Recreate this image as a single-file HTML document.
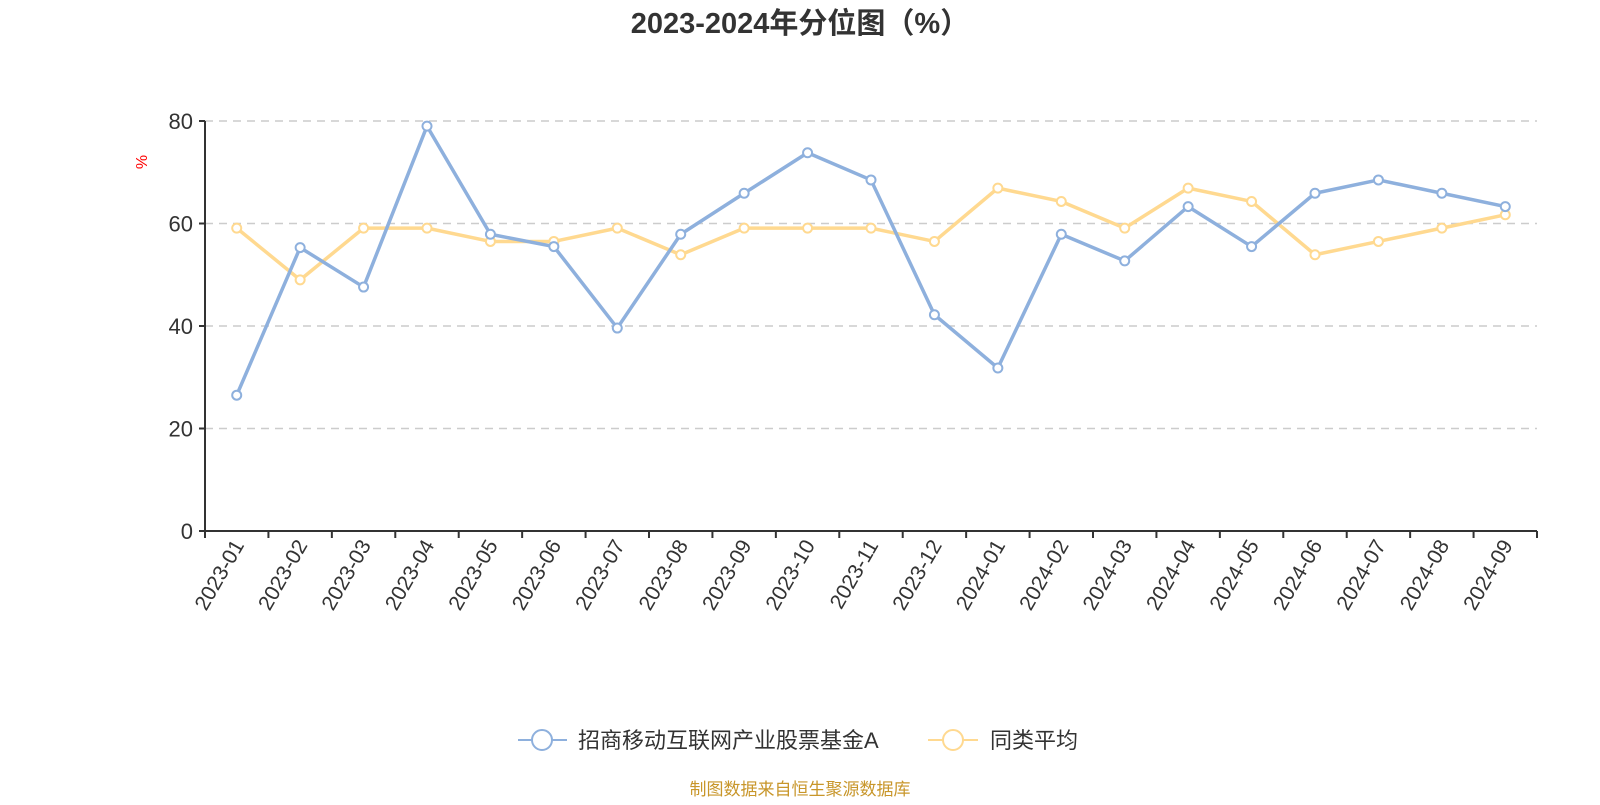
<!DOCTYPE html>
<html><head><meta charset="utf-8"><style>
body{margin:0;background:#fff;width:1600px;height:800px;overflow:hidden;font-family:"Liberation Sans","Noto Sans CJK SC",sans-serif}
</style></head><body>
<svg id="chart" width="1600" height="800" font-family="Liberation Sans, Noto Sans CJK SC, sans-serif">
<text x="800" y="33" text-anchor="middle" font-size="29" font-weight="bold" fill="#333">2023-2024年分位图（%）</text>
<text transform="translate(147,162) rotate(-90)" text-anchor="middle" font-size="16" fill="red">%</text>
<g id="grid"></g><g id="axes"></g><g id="series"></g>
<g>
<g>
<line x1="518" y1="740" x2="567" y2="740" stroke="#8eb0dd" stroke-width="2"/><circle cx="542" cy="740" r="10" fill="#fff" stroke="#8eb0dd" stroke-width="2"/>
<text x="578" y="748" font-size="22" fill="#333">招商移动互联网产业股票基金A</text></g>
<g>
<line x1="928" y1="740" x2="978" y2="740" stroke="#ffd990" stroke-width="2"/><circle cx="953" cy="740" r="10" fill="#fff" stroke="#ffd990" stroke-width="2"/>
<text x="990" y="748" font-size="22" fill="#333">同类平均</text></g>
</g>
<text x="800" y="795" text-anchor="middle" font-size="17" fill="#c8962a">制图数据来自恒生聚源数据库</text>
</svg>
<script>
const categories=["2023-01","2023-02","2023-03","2023-04","2023-05","2023-06","2023-07","2023-08","2023-09","2023-10","2023-11","2023-12","2024-01","2024-02","2024-03","2024-04","2024-05","2024-06","2024-07","2024-08","2024-09"];
const fundValues=[26.5,55.3,47.6,79,57.9,55.5,39.6,57.9,65.9,73.8,68.5,42.2,31.8,57.9,52.7,63.3,55.5,65.9,68.5,65.9,63.3];
const avgValues=[59.1,49,59.1,59.1,56.5,56.5,59.1,53.9,59.1,59.1,59.1,56.5,66.9,64.3,59.1,66.9,64.3,53.9,56.5,59.1,61.7];
const yTicks=[0,20,40,60,80];
const NS="http://www.w3.org/2000/svg";
const X0=205,X1=1537,Y0=531,Y1=121,YMAX=80;
const band=(X1-X0)/categories.length;
const xs=i=>X0+band*(i+0.5);
const ys=v=>Y0-(v/YMAX)*(Y0-Y1);
function mk(tag,attrs,parent){const e=document.createElementNS(NS,tag);for(const k in attrs)e.setAttribute(k,attrs[k]);parent.appendChild(e);return e;}
const grid=document.getElementById('grid'),axes=document.getElementById('axes'),series=document.getElementById('series');
yTicks.forEach(t=>{
  if(t>0){const g=mk('line',{x1:X0,x2:X1,y1:ys(t),y2:ys(t),stroke:'#ccc','stroke-width':1.5,'stroke-dasharray':'8,6'},grid);
  
  }
  const tk=mk('line',{x1:X0-6,x2:X0,y1:ys(t),y2:ys(t),stroke:'#333','stroke-width':2},axes);
  
  
  const lb=mk('text',{x:X0-12,y:ys(t)+8,'text-anchor':'end','font-size':22,fill:'#333'},axes);lb.textContent=t;
  
  
});
const ya=mk('line',{x1:X0,x2:X0,y1:Y1,y2:Y0,stroke:'#333','stroke-width':2},axes);


const xa=mk('line',{x1:X0,x2:X1,y1:Y0,y2:Y0,stroke:'#333','stroke-width':2},axes);


for(let i=0;i<=categories.length;i++){const x=X0+band*i;const tk=mk('line',{x1:x,x2:x,y1:Y0,y2:Y0+7,stroke:'#333','stroke-width':2},axes);
  
  }
categories.forEach((c,i)=>{const x=xs(i);const t=mk('text',{transform:`translate(${x+8},${Y0+14}) rotate(-60)`,'text-anchor':'end','font-size':21,fill:'#333'},axes);t.textContent=c;
  
  });
function draw(vals,color,name){
  const p=mk('polyline',{points:vals.map((v,i)=>xs(i)+','+ys(v)).join(' '),fill:'none',stroke:color,'stroke-width':3.5,'stroke-linejoin':'round'},series);
  
  
  vals.forEach((v,i)=>{const c=mk('circle',{cx:xs(i),cy:ys(v),r:4.5,fill:'#fff',stroke:color,'stroke-width':2},series);
    
    });
}
draw(avgValues,'#ffd990','average');
draw(fundValues,'#8eb0dd','fund');
</script>
</body></html>
